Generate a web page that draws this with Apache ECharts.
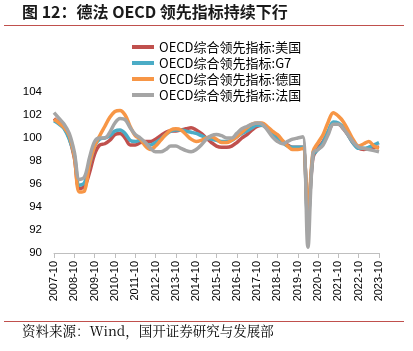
<!DOCTYPE html>
<html>
<head>
<meta charset="utf-8">
<script src="https://cdn.jsdelivr.net/npm/echarts@6/dist/echarts.min.js"></script>
<style>
  html, body { margin: 0; padding: 0; background: #fff; }
  #chart { width: 413px; height: 351px; }
</style>
</head>
<body>
<div id="chart"></div>
<script>
// 季度数据 2007-10 ~ 2023-10
var categories = ['2007-10']
for (var y = 2008; y <= 2023; y++) {
  ;['01', '04', '07', '10'].forEach(function (m) {
    categories.push(y + '-' + m)
  })
}

var usData = [101.7, 101.3, 100.9, 100.0, 98.3, 95.6, 95.8, 97.0, 98.6, 99.4, 99.5, 99.8, 100.3, 100.4, 100.0, 99.4,
  99.4, 99.6, 99.7, 99.7, 99.9, 100.2, 100.5, 100.6, 100.6, 100.7, 100.8, 100.9, 100.7, 100.4, 100.0, 99.6,
  99.3, 99.2, 99.2, 99.3, 99.6, 100.0, 100.3, 100.7, 101.0, 101.1, 100.9, 100.4, 100.1, 99.7, 99.4, 99.2,
  99.2, 99.2, 93.0, 98.3, 99.1, 99.7, 100.5, 101.2, 101.2, 100.8, 100.2, 99.5, 99.1, 99.0, 99.1, 99.2, 99.2]
var g7Data = [101.5, 101.2, 100.8, 99.9, 98.5, 95.9, 96.1, 97.7, 99.3, 99.9, 100.0, 100.2, 100.6, 100.7, 100.4, 99.8,
  99.7, 99.8, 99.5, 99.4, 99.6, 99.9, 100.3, 100.6, 100.7, 100.7, 100.6, 100.5, 100.4, 100.2, 100.0, 99.9,
  99.8, 99.7, 99.7, 99.8, 100.1, 100.4, 100.6, 100.9, 101.1, 101.1, 100.8, 100.3, 99.9, 99.6, 99.3, 99.2,
  99.2, 99.2, 92.7, 98.5, 99.0, 99.6, 100.6, 101.4, 101.3, 100.9, 100.2, 99.5, 99.1, 99.1, 99.2, 99.4, 99.6]
var deData = [101.6, 101.3, 100.9, 100.2, 98.4, 95.3, 95.4, 97.8, 99.3, 100.2, 101.0, 101.8, 102.3, 102.4, 102.0, 101.0,
  100.2, 99.9, 99.3, 99.0, 99.3, 99.8, 100.3, 100.7, 100.8, 100.7, 100.3, 99.9, 99.7, 99.8, 100.0, 100.1,
  99.9, 99.6, 99.6, 99.8, 100.1, 100.5, 100.9, 101.2, 101.3, 101.3, 101.0, 100.6, 100.3, 99.8, 99.3, 99.0,
  99.0, 99.1, 93.5, 98.8, 99.6, 100.3, 101.4, 102.2, 101.9, 101.4, 100.6, 99.8, 99.3, 99.5, 99.7, 99.3, 99.1]
var frData = [102.2, 101.7, 101.2, 100.4, 98.8, 96.4, 96.6, 98.3, 99.7, 100.0, 100.0, 100.5, 101.3, 101.7, 101.6, 100.9,
  100.3, 100.0, 99.6, 99.1, 98.8, 98.8, 99.0, 99.3, 99.3, 99.1, 98.9, 98.8, 99.0, 99.4, 99.9, 100.2,
  100.3, 100.2, 100.0, 100.0, 100.4, 100.8, 101.0, 101.2, 101.3, 101.2, 100.7, 100.1, 99.7, 99.5, 99.7, 99.9,
  100.0, 100.1, 90.5, 98.7, 99.0, 99.4, 100.3, 101.2, 101.2, 100.8, 100.2, 99.6, 99.2, 99.1, 99.0, 98.9, 98.8]

var seriesNames = ['OECD综合领先指标:美国', 'OECD综合领先指标:G7', 'OECD综合领先指标:德国', 'OECD综合领先指标:法国']
var colors = ['#c0504d', '#4bacc6', '#f79646', '#a5a5a5']
var seriesData = [usData, g7Data, deData, frData]

var myChart = echarts.init(document.getElementById('chart'))
var cjk = '"Noto Sans CJK SC", sans-serif'

var option = {
  animation: false,
  color: colors,
  legend: {
    orient: 'vertical',
    left: 127,
    top: 34,
    itemWidth: 22,
    itemHeight: 4,
    itemGap: 0,
    icon: 'rect',
    textStyle: { fontFamily: cjk, fontSize: 13, color: '#000', lineHeight: 16 },
    data: seriesNames
  },
  grid: { left: 54, right: 34, top: 92, bottom: 98 },
  xAxis: {
    type: 'category',
    boundaryGap: false,
    data: categories,
    axisLine: { lineStyle: { color: '#bfbfbf' } },
    axisTick: { interval: 3, length: 5, lineStyle: { color: '#bfbfbf' } },
    axisLabel: {
      interval: 3,
      rotate: 90,
      fontSize: 11,
      color: '#000',
      fontFamily: 'Liberation Sans, Arial, sans-serif'
    }
  },
  yAxis: {
    type: 'value',
    min: 90,
    max: 104,
    interval: 2,
    axisLine: { show: false },
    axisTick: { show: false },
    splitLine: { show: false },
    axisLabel: { fontSize: 11.5, color: '#000', margin: 12, fontFamily: 'Liberation Sans, Arial, sans-serif' }
  },
  series: seriesNames.map(function (name, i) {
    return {
      name: name,
      type: 'line',
      data: seriesData[i],
      symbol: 'none',
      smooth: 0.35,
      lineStyle: { width: 3.5, color: colors[i] }
    }
  }),
  graphic: [
    {
      type: 'text', left: 22, top: 4,
      style: { text: '图 12：德法 OECD 领先指标持续下行', font: 'bold 16px "Noto Sans CJK SC", sans-serif', fill: '#1a1a1a' }
    },
    {
      type: 'line', shape: { x1: 4, y1: 25.5, x2: 404, y2: 25.5 },
      style: { stroke: '#c0504d', lineWidth: 1 }
    },
    {
      type: 'line', shape: { x1: 4, y1: 321.5, x2: 404, y2: 321.5 },
      style: { stroke: '#c0504d', lineWidth: 1 }
    },
    {
      type: 'text', left: 22, top: 324,
      style: { text: '资料来源：Wind，国开证券研究与发展部', font: '13.5px "Noto Serif CJK SC", "DejaVu Serif", "Noto Sans CJK SC", serif', fill: '#000' }
    }
  ]
}

myChart.setOption(option)
</script>
</body>
</html>
